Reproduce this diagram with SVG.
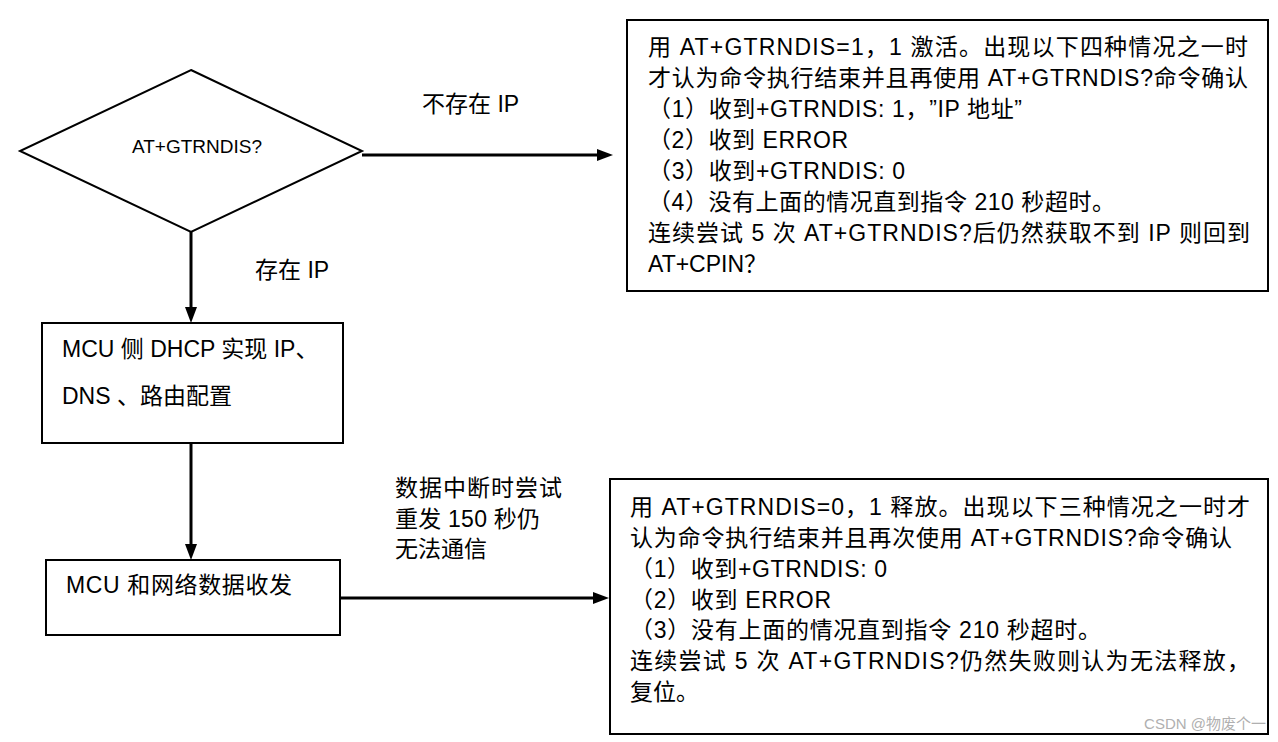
<svg xmlns="http://www.w3.org/2000/svg" width="1278" height="742" viewBox="0 0 1278 742">
<style>
text{font-family:"Liberation Sans","Noto Sans CJK SC",sans-serif;fill:#000;text-spacing-trim:space-all}
.t{font-size:23px}
.l{font-size:23px}
.d{font-size:19px}
.box{fill:#fff;stroke:#000;stroke-width:2}
.con{stroke:#000;stroke-width:3;fill:none}
.wm{font-size:15px;fill:#b0b0b0}
</style>
<defs>
<marker id="ah" viewBox="0 0 16 12" refX="8" refY="6" markerWidth="16" markerHeight="12" markerUnits="userSpaceOnUse" orient="auto">
<path d="M0,0 L16,6 L0,12 Z" fill="#000"/>
</marker>
</defs>
<rect width="1278" height="742" fill="#fff"/>
<g id="connectors">
<line class="con" x1="362" y1="155" x2="605" y2="155" marker-end="url(#ah)"/>
<line class="con" x1="191" y1="232" x2="191" y2="315" marker-end="url(#ah)"/>
<line class="con" x1="191" y1="443" x2="191" y2="552" marker-end="url(#ah)"/>
<line class="con" x1="340" y1="598" x2="601" y2="598" marker-end="url(#ah)"/>
<text class="l" x="422" y="112">不存在 IP</text>
<text class="l" x="255" y="278">存在 IP</text>
<text class="l" x="395" y="496" textLength="167" lengthAdjust="spacing">数据中断时尝试</text>
<text class="l" x="395" y="527" textLength="145" lengthAdjust="spacing">重发 150 秒仍</text>
<text class="l" x="395" y="557">无法通信</text>
</g>
<g id="decision">
<polygon points="191,70 362,151 191,232 20,151" fill="#fff" stroke="#000" stroke-width="2"/>
<text class="d" x="197" y="153" text-anchor="middle">AT+GTRNDIS?</text>
</g>
<g id="activate">
<rect class="box" x="627" y="20" width="641" height="271"/>
<text class="t" x="648" y="55" textLength="600" lengthAdjust="spacing">用 AT+GTRNDIS=1，1 激活。出现以下四种情况之一时</text>
<text class="t" x="648" y="86" textLength="600" lengthAdjust="spacing">才认为命令执行结束并且再使用 AT+GTRNDIS?命令确认</text>
<text class="t" x="648" y="117" textLength="374" lengthAdjust="spacing">（1）收到+GTRNDIS: 1，”IP 地址”</text>
<text class="t" x="648" y="148" textLength="200" lengthAdjust="spacing">（2）收到 ERROR</text>
<text class="t" x="648" y="179" textLength="257" lengthAdjust="spacing">（3）收到+GTRNDIS: 0</text>
<text class="t" x="648" y="210" textLength="467" lengthAdjust="spacing">（4）没有上面的情况直到指令 210 秒超时。</text>
<text class="t" x="648" y="241" textLength="602" lengthAdjust="spacing">连续尝试 5 次 AT+GTRNDIS?后仍然获取不到 IP 则回到</text>
<text class="t" x="648" y="272">AT+CPIN？</text>
</g>
<g id="dhcp">
<rect class="box" x="42" y="323" width="301" height="120"/>
<text class="l" x="62" y="357">MCU 侧 DHCP 实现 IP、</text>
<text class="l" x="62" y="404">DNS 、路由配置</text>
</g>
<g id="data">
<rect class="box" x="46" y="560" width="294" height="75"/>
<text class="l" x="66" y="593" textLength="226" lengthAdjust="spacing">MCU 和网络数据收发</text>
</g>
<g id="release">
<rect class="box" x="610" y="479" width="658" height="255"/>
<text class="t" x="630" y="515" textLength="620" lengthAdjust="spacing">用 AT+GTRNDIS=0，1 释放。出现以下三种情况之一时才</text>
<text class="t" x="630" y="546" textLength="602" lengthAdjust="spacing">认为命令执行结束并且再次使用 AT+GTRNDIS?命令确认</text>
<text class="t" x="630" y="577" textLength="257" lengthAdjust="spacing">（1）收到+GTRNDIS: 0</text>
<text class="t" x="630" y="608" textLength="201" lengthAdjust="spacing">（2）收到 ERROR</text>
<text class="t" x="630" y="638" textLength="471" lengthAdjust="spacing">（3）没有上面的情况直到指令 210 秒超时。</text>
<text class="t" x="630" y="669" textLength="620" lengthAdjust="spacing">连续尝试 5 次 AT+GTRNDIS?仍然失败则认为无法释放，</text>
<text class="t" x="630" y="700">复位。</text>
<text class="wm" x="1266" y="729" text-anchor="end">CSDN @物废个一</text>
</g>
</svg>
